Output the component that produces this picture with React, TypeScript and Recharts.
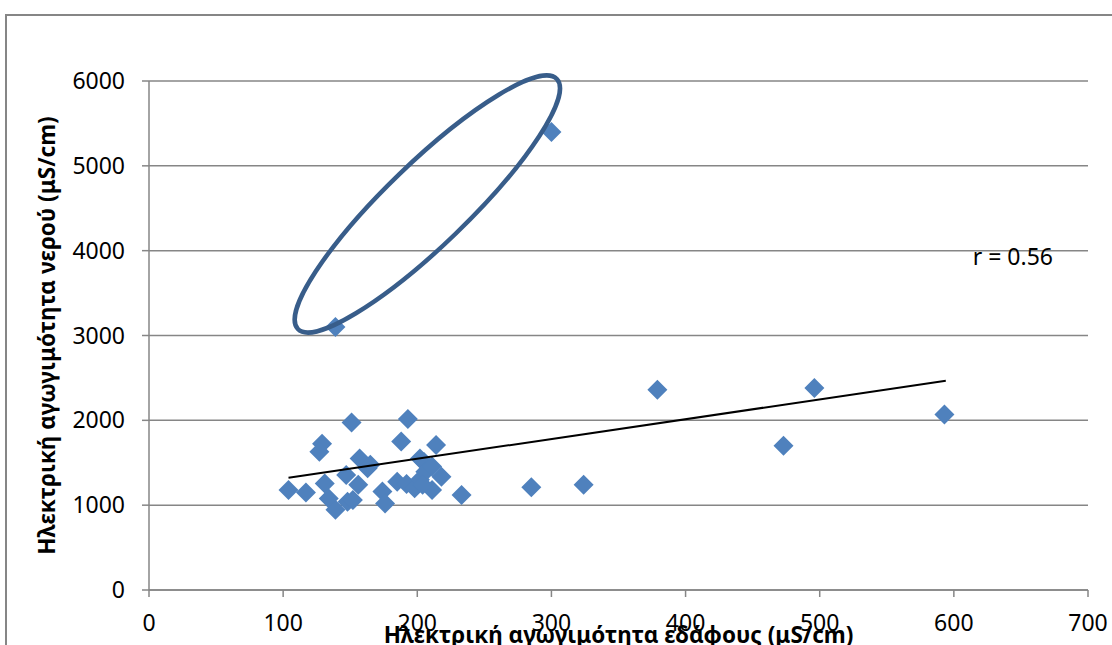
import React from 'react';
import { ScatterChart, Scatter, XAxis, YAxis, CartesianGrid, ReferenceDot } from 'recharts';

// Soil electrical conductivity (μS/cm)
const soilEC = [104, 117, 129, 127, 131, 134, 139, 147, 151, 157, 163, 156, 148, 152, 139, 300, 193, 188, 214, 165, 174, 176, 185, 192, 202, 205, 198, 202, 206, 211, 211, 218, 233, 204, 285, 324, 379, 473, 496, 593];
// Water electrical conductivity (μS/cm)
const waterEC = [1180, 1150, 1725, 1630, 1255, 1080, 945, 1355, 1975, 1550, 1435, 1240, 1040, 1060, 3100, 5400, 2015, 1750, 1710, 1475, 1160, 1020, 1275, 1250, 1550, 1510, 1200, 1300, 1395, 1455, 1180, 1335, 1120, 1240, 1210, 1240, 2360, 1700, 2380, 2070];

const trendX = [104, 594];
const trendY = [1323, 2466];

const xTicks = [0, 100, 200, 300, 400, 500, 600, 700];
const yTicks = [0, 1000, 2000, 3000, 4000, 5000, 6000];

const ellipseCenterX = 207.5;
const ellipseCenterY = 4550;
const rLabelX = 644;
const rLabelY = 3937;
const rLabel = 'r = 0.56';

const xTitle = 'Ηλεκτρική αγωγιμότητα εδάφους (μS/cm)';
const yTitle = 'Ηλεκτρική αγωγιμότητα νερού (μS/cm)';

const points = soilEC.map((x, i) => ({ x, y: waterEC[i] }));
const trend = trendX.map((x, i) => ({ x, y: trendY[i] }));

const FONT = '"Noto Sans", "Open Sans", sans-serif';
const GRID = '#868686';

const Diamond = (props: any) => {
  const { cx, cy } = props;
  if (cx == null || cy == null) return <g />;
  const h = 10;
  return (
    <polygon
      points={`${cx},${cy - h} ${cx + h},${cy} ${cx},${cy + h} ${cx - h},${cy}`}
      fill="#4F81BD"
    />
  );
};

const EllipseShape = (props: any) => {
  const { cx, cy } = props;
  return (
    <ellipse
      cx={cx}
      cy={cy}
      rx={180}
      ry={41}
      transform={`rotate(-44 ${cx} ${cy})`}
      fill="none"
      stroke="#385D8A"
      strokeWidth={4.5}
    />
  );
};

const RLabelShape = (props: any) => {
  const { cx, cy } = props;
  return (
    <text x={cx} y={cy} textAnchor="middle" dominantBaseline="central" fontFamily={FONT} fontSize={23} fill="#000">
      {rLabel}
    </text>
  );
};

export default function App() {
  return (
    <div style={{ position: 'absolute', left: 0, top: 0, width: 1112, height: 645, overflow: 'hidden', background: '#fff' }}>
      <div
        style={{
          position: 'absolute',
          left: 5,
          top: 14,
          width: 1200,
          height: 700,
          border: `2px solid ${GRID}`,
          boxSizing: 'border-box',
        }}
      />
      <div style={{ position: 'absolute', left: 0, top: 0 }}>
        <ScatterChart width={1112} height={645} margin={{ top: 81, right: 24, left: 20, bottom: 0 }}>
          <CartesianGrid vertical={false} stroke={GRID} strokeWidth={1.5} />
          <XAxis
            type="number"
            dataKey="x"
            domain={[0, 700]}
            ticks={xTicks}
            interval={0}
            height={55}
            tickSize={7}
            tickMargin={18}
            axisLine={{ stroke: GRID, strokeWidth: 1.5 }}
            tickLine={{ stroke: GRID, strokeWidth: 1.5 }}
            tick={{ fill: '#000', fontSize: 23, fontFamily: FONT }}
            label={{
              value: xTitle,
              position: 'insideBottom',
              offset: 2,
              style: { fontFamily: FONT, fontSize: 22.5, fontWeight: 'bold', fill: '#000' },
            }}
          />
          <YAxis
            type="number"
            dataKey="y"
            domain={[0, 6000]}
            ticks={yTicks}
            interval={0}
            width={129}
            tickSize={7}
            tickMargin={17}
            axisLine={{ stroke: GRID, strokeWidth: 1.5 }}
            tickLine={{ stroke: GRID, strokeWidth: 1.5 }}
            tick={{ fill: '#000', fontSize: 23, fontFamily: FONT }}
            label={{
              value: yTitle,
              angle: -90,
              position: 'insideLeft',
              offset: 27,
              style: { textAnchor: 'middle', fontFamily: FONT, fontSize: 22.5, fontWeight: 'bold', fill: '#000' },
            }}
          />
          <Scatter data={points} shape={Diamond} isAnimationActive={false} />
          <Scatter
            data={trend}
            line={{ stroke: '#000', strokeWidth: 2 }}
            shape={() => <g />}
            isAnimationActive={false}
          />
          <ReferenceDot x={ellipseCenterX} y={ellipseCenterY} r={0} shape={EllipseShape} ifOverflow="visible" />
          <ReferenceDot x={rLabelX} y={rLabelY} r={0} shape={RLabelShape} ifOverflow="visible" />
        </ScatterChart>
      </div>
    </div>
  );
}
